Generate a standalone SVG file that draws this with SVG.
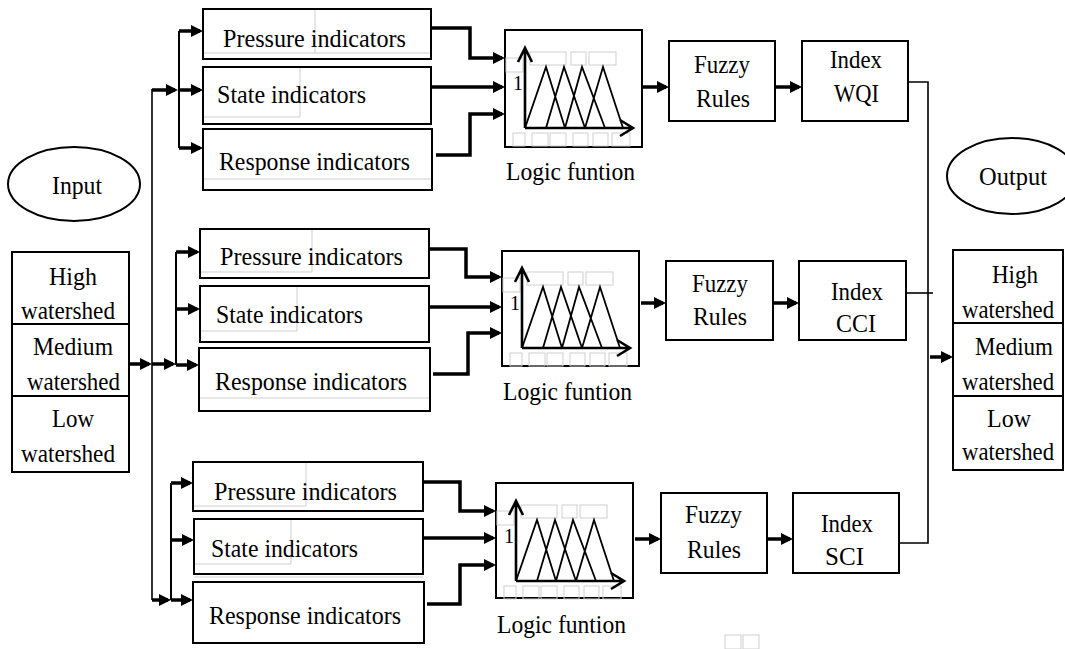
<svg xmlns="http://www.w3.org/2000/svg" xmlns:xlink="http://www.w3.org/1999/xlink" width="1065" height="649" viewBox="0 0 1065 649" font-family="'Liberation Serif', 'Times New Roman', serif">
<style>
.bg{fill:#fff}
.box{fill:#fff;stroke:#000;stroke-width:2}
.t{font-family:'Liberation Serif','Times New Roman',serif;font-size:26px;fill:#000}
.thick{stroke:#000;stroke-width:3.5;fill:none}
.thin{stroke:#000;stroke-width:1.6;fill:none}
.branch{stroke:#000;stroke-width:2;fill:none}
.ghost{fill:none;stroke:#cfcfcf;stroke-width:1}
.ax{stroke:#000;stroke-width:2.6;fill:none}
.tri{stroke:#000;stroke-width:1.8;fill:none;stroke-linejoin:miter}
</style>
<defs>
<marker id="ah" markerUnits="userSpaceOnUse" viewBox="0 0 12 12" markerWidth="12" markerHeight="13" refX="9" refY="6" orient="auto">
<path d="M0,0 L12,6 L0,12 z" fill="#000"/>
</marker>
<g id="mf">
<rect class="ghost" x="25" y="21" width="36" height="13"/>
<rect class="ghost" x="66" y="21" width="15" height="13"/>
<rect class="ghost" x="84" y="21" width="27" height="13"/>
<rect class="ghost" x="1" y="27" width="17" height="14"/>
<rect class="ghost" x="8" y="102" width="12" height="13"/>
<rect class="ghost" x="27" y="102" width="16" height="13"/>
<rect class="ghost" x="45" y="102" width="16" height="13"/>
<rect class="ghost" x="68" y="102" width="15" height="13"/>
<rect class="ghost" x="88" y="102" width="15" height="13"/>
<rect class="ghost" x="107" y="102" width="18" height="13"/>
<path class="tri" d="M20,97 L41,36 L60,97 M41,97 L59,36 L80,97 M60,97 L77,36 L100,97 M80,97 L98,36 L118,97"/>
<path class="ax" d="M20,97 V17 M13,31 L20,17 L27,31 M20,97 H128 M115,89 L128,97 L115,105"/>
<text x="13" y="59" text-anchor="middle" font-family="Liberation Serif, serif" font-size="20">1</text>
</g>
</defs>
<rect class="bg" x="0" y="0" width="1065" height="649"/>

<g id="connectors">
<path class="thin" d="M152,89 V600"/>
<path class="thick" d="M152,90 H175" marker-end="url(#ah)"/>
<path class="thick" d="M129,364 H149" marker-end="url(#ah)"/>
<path class="thick" d="M152,364 H173" marker-end="url(#ah)"/>
<path class="thick" d="M152,600 H168" marker-end="url(#ah)"/>
<path class="branch" d="M179,31 V148"/>
<path class="thick" d="M179,31 H200" marker-end="url(#ah)"/>
<path class="thick" d="M179,90 H200" marker-end="url(#ah)"/>
<path class="thick" d="M179,148 H200" marker-end="url(#ah)"/>
<path class="branch" d="M176,252 V365"/>
<path class="thick" d="M176,252 H197" marker-end="url(#ah)"/>
<path class="thick" d="M176,309 H197" marker-end="url(#ah)"/>
<path class="thick" d="M176,365 H196" marker-end="url(#ah)"/>
<path class="branch" d="M171,483 V600"/>
<path class="thick" d="M171,483 H190" marker-end="url(#ah)"/>
<path class="thick" d="M171,540 H191" marker-end="url(#ah)"/>
<path class="thick" d="M171,600 H190" marker-end="url(#ah)"/>
<path class="thick" d="M431,28 H470 V58 H502" marker-end="url(#ah)"/>
<path class="thick" d="M431,87 H502" marker-end="url(#ah)"/>
<path class="thick" d="M436,155 H470 V114 H502" marker-end="url(#ah)"/>
<path class="thick" d="M643,87 H666" marker-end="url(#ah)"/>
<path class="thick" d="M775,87 H799" marker-end="url(#ah)"/>
<path class="thick" d="M429,249 H466 V277 H499" marker-end="url(#ah)"/>
<path class="thick" d="M429,307 H499" marker-end="url(#ah)"/>
<path class="thick" d="M433,374 H468 V333 H499" marker-end="url(#ah)"/>
<path class="thick" d="M641,303 H663" marker-end="url(#ah)"/>
<path class="thick" d="M773,303 H796" marker-end="url(#ah)"/>
<path class="thick" d="M423,482 H460 V511 H493" marker-end="url(#ah)"/>
<path class="thick" d="M423,538 H493" marker-end="url(#ah)"/>
<path class="thick" d="M427,604 H460 V565 H493" marker-end="url(#ah)"/>
<path class="thick" d="M635,539 H658" marker-end="url(#ah)"/>
<path class="thick" d="M767,539 H790" marker-end="url(#ah)"/>
<path class="thin" d="M908,82 H928 V543 H899"/>
<path class="thin" d="M906,293 H933"/>
<path class="thick" d="M930,357 H950" marker-end="url(#ah)"/>
</g>

<g id="input-ellipse">
<ellipse cx="74" cy="184" rx="66" ry="37" fill="#fff" stroke="#000" stroke-width="2"/>
<text class="t" x="52" y="194" textLength="50" lengthAdjust="spacingAndGlyphs">Input</text>
</g>

<g id="input-table">
<rect class="box" x="12" y="252" width="117" height="220"/>
<path class="box" d="M12,324 H129 M12,396 H129"/>
<text class="t" x="49" y="285" textLength="48" lengthAdjust="spacingAndGlyphs">High</text>
<text class="t" x="21" y="319" textLength="94" lengthAdjust="spacingAndGlyphs">watershed</text>
<text class="t" x="33" y="355" textLength="80" lengthAdjust="spacingAndGlyphs">Medium</text>
<text class="t" x="27" y="390" textLength="93" lengthAdjust="spacingAndGlyphs">watershed</text>
<text class="t" x="52" y="427" textLength="42" lengthAdjust="spacingAndGlyphs">Low</text>
<text class="t" x="21" y="462" textLength="94" lengthAdjust="spacingAndGlyphs">watershed</text>
</g>

<g id="top-pressure">
<rect class="box" x="203" y="9" width="228" height="50"/>
<path class="ghost" d="M204,53 H430 M315,10 V53"/>
<text class="t" x="223" y="47" textLength="183" lengthAdjust="spacingAndGlyphs">Pressure  indicators</text>
</g>
<g id="top-state">
<rect class="box" x="203" y="67" width="228" height="57"/>
<path class="ghost" d="M204,117 H300 M300,68 V117"/>
<text class="t" x="217" y="103" textLength="149" lengthAdjust="spacingAndGlyphs">State indicators</text>
</g>
<g id="top-response">
<rect class="box" x="203" y="129" width="229" height="61"/>
<path class="ghost" d="M204,179 H431"/>
<text class="t" x="219" y="170" textLength="191" lengthAdjust="spacingAndGlyphs">Response  indicators</text>
</g>
<g id="top-logic">
<rect class="box" x="505" y="30" width="137" height="117"/>
<use xlink:href="#mf" href="#mf" x="505" y="31"/>
<text class="t" x="506" y="180" textLength="129" lengthAdjust="spacingAndGlyphs">Logic funtion</text>
</g>
<g id="top-fuzzy">
<rect class="box" x="669" y="41" width="106" height="80"/>
<text class="t" x="694" y="73" textLength="56" lengthAdjust="spacingAndGlyphs">Fuzzy</text>
<text class="t" x="696" y="107" textLength="54" lengthAdjust="spacingAndGlyphs">Rules</text>
</g>
<g id="top-index">
<rect class="box" x="802" y="41" width="106" height="80"/>
<text class="t" x="830" y="68" textLength="52" lengthAdjust="spacingAndGlyphs">Index</text>
<text class="t" x="834" y="102" textLength="45" lengthAdjust="spacingAndGlyphs">WQI</text>
</g>

<g id="mid-pressure">
<rect class="box" x="200" y="229" width="229" height="49"/>
<path class="ghost" d="M201,272 H312 M312,230 V272"/>
<text class="t" x="220" y="265" textLength="183" lengthAdjust="spacingAndGlyphs">Pressure  indicators</text>
</g>
<g id="mid-state">
<rect class="box" x="200" y="286" width="229" height="56"/>
<path class="ghost" d="M201,331 H297 M297,287 V331"/>
<text class="t" x="216" y="323" textLength="147" lengthAdjust="spacingAndGlyphs">State indicators</text>
</g>
<g id="mid-response">
<rect class="box" x="199" y="348" width="231" height="63"/>
<path class="ghost" d="M200,398 H429"/>
<text class="t" x="215" y="390" textLength="192" lengthAdjust="spacingAndGlyphs">Response  indicators</text>
</g>
<g id="mid-logic">
<rect class="box" x="502" y="251" width="137" height="115"/>
<use xlink:href="#mf" href="#mf" x="502" y="251"/>
<text class="t" x="503" y="400" textLength="129" lengthAdjust="spacingAndGlyphs">Logic funtion</text>
</g>
<g id="mid-fuzzy">
<rect class="box" x="666" y="261" width="107" height="79"/>
<text class="t" x="692" y="292" textLength="56" lengthAdjust="spacingAndGlyphs">Fuzzy</text>
<text class="t" x="693" y="325" textLength="54" lengthAdjust="spacingAndGlyphs">Rules</text>
</g>
<g id="mid-index">
<rect class="box" x="799" y="261" width="107" height="79"/>
<text class="t" x="831" y="300" textLength="52" lengthAdjust="spacingAndGlyphs">Index</text>
<text class="t" x="836" y="332" textLength="40" lengthAdjust="spacingAndGlyphs">CCI</text>
</g>

<g id="bot-pressure">
<rect class="box" x="193" y="462" width="230" height="49"/>
<path class="ghost" d="M194,506 H306 M306,463 V506"/>
<text class="t" x="214" y="500" textLength="183" lengthAdjust="spacingAndGlyphs">Pressure  indicators</text>
</g>
<g id="bot-state">
<rect class="box" x="194" y="519" width="229" height="55"/>
<path class="ghost" d="M195,564 H291 M291,520 V564"/>
<text class="t" x="211" y="557" textLength="147" lengthAdjust="spacingAndGlyphs">State indicators</text>
</g>
<g id="bot-response">
<rect class="box" x="193" y="582" width="231" height="61"/>
<path class="ghost" d="M194,577 H423"/>
<text class="t" x="209" y="624" textLength="192" lengthAdjust="spacingAndGlyphs">Response  indicators</text>
</g>
<g id="bot-logic">
<rect class="box" x="496" y="483" width="137" height="115"/>
<use xlink:href="#mf" href="#mf" x="496" y="484"/>
<text class="t" x="497" y="633" textLength="129" lengthAdjust="spacingAndGlyphs">Logic funtion</text>
</g>
<g id="bot-fuzzy">
<rect class="box" x="661" y="493" width="106" height="80"/>
<text class="t" x="685" y="523" textLength="57" lengthAdjust="spacingAndGlyphs">Fuzzy</text>
<text class="t" x="687" y="558" textLength="54" lengthAdjust="spacingAndGlyphs">Rules</text>
</g>
<g id="bot-index">
<rect class="box" x="793" y="493" width="106" height="80"/>
<text class="t" x="821" y="532" textLength="52" lengthAdjust="spacingAndGlyphs">Index</text>
<text class="t" x="825" y="565" textLength="39" lengthAdjust="spacingAndGlyphs">SCI</text>
</g>

<g id="output-ellipse">
<ellipse cx="1012" cy="176" rx="65" ry="38" fill="#fff" stroke="#000" stroke-width="2"/>
<text class="t" x="979" y="185" textLength="68" lengthAdjust="spacingAndGlyphs">Output</text>
</g>

<g id="output-table">
<rect class="box" x="953" y="250" width="110" height="220"/>
<path class="box" d="M953,323 H1063 M953,396 H1063"/>
<text class="t" x="992" y="283" textLength="46" lengthAdjust="spacingAndGlyphs">High</text>
<text class="t" x="962" y="318" textLength="92" lengthAdjust="spacingAndGlyphs">watershed</text>
<text class="t" x="975" y="355" textLength="78" lengthAdjust="spacingAndGlyphs">Medium</text>
<text class="t" x="962" y="390" textLength="92" lengthAdjust="spacingAndGlyphs">watershed</text>
<text class="t" x="987" y="427" textLength="44" lengthAdjust="spacingAndGlyphs">Low</text>
<text class="t" x="962" y="460" textLength="92" lengthAdjust="spacingAndGlyphs">watershed</text>
</g>

<g id="artifact">
<rect class="ghost" x="725" y="635" width="16" height="14"/>
<rect class="ghost" x="743" y="635" width="16" height="14"/>
</g>
</svg>
